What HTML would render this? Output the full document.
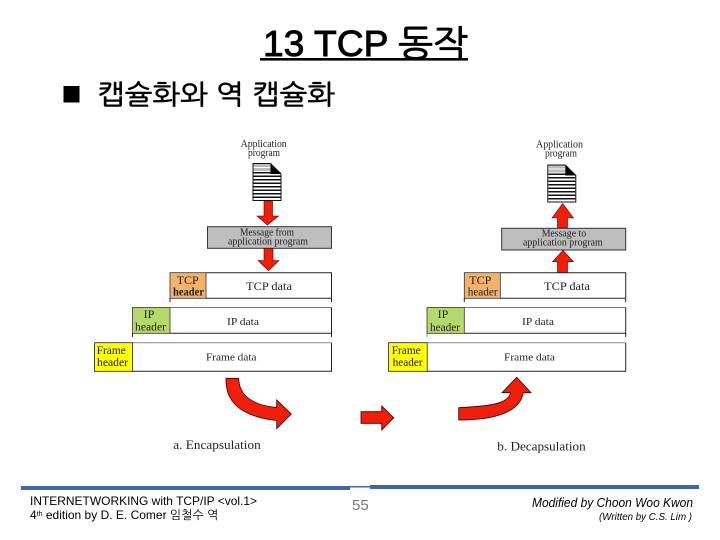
<!DOCTYPE html>
<html><head><meta charset="utf-8"><style>
html,body{margin:0;padding:0;background:#fff}
svg{display:block}
.s{font-family:"Liberation Serif","Noto Serif CJK SC",serif;fill:#222}
.a{font-family:"Liberation Sans","NanumGothic","Noto Sans CJK KR",sans-serif;fill:#000}
.d{filter:blur(.35px)}
</style></head><body>
<svg xmlns="http://www.w3.org/2000/svg" width="720" height="540" viewBox="0 0 720 540">
<defs>
<g id="doc">
<path d="M0.5 0.5H18L28.5 11V37.5H0.5Z" fill="#fff" stroke="#111"/>
<g fill="#bbb"><rect x="1" y="1" width="17" height="3"/><rect x="1" y="5" width="17" height="3"/></g>
<g fill="#111"><rect x="1" y="9" width="27" height="1.5"/><rect x="1" y="12.5" width="27" height="1.5"/><rect x="1" y="16" width="27" height="1.5"/><rect x="1" y="19.5" width="27" height="1.5"/><rect x="1" y="23" width="27" height="1.5"/><rect x="1" y="26.5" width="27" height="1.5"/><rect x="1" y="30" width="27" height="1.5"/><rect x="1" y="33.5" width="27" height="1.5"/></g>
<path d="M18 0.5L28.5 11H18Z" fill="#000"/>
</g>
</defs>

<!-- heading -->
<text class="a" x="263" y="56" font-size="36" stroke="#000" stroke-width=".9" textLength="205" lengthAdjust="spacingAndGlyphs">13 TCP 동작</text>
<rect x="260" y="58" width="208" height="2.6" fill="#000"/>
<rect x="63.5" y="86" width="16" height="16.5" fill="#000"/>
<text class="a" x="97" y="104" font-size="27" stroke="#000" stroke-width=".6" textLength="238" lengthAdjust="spacingAndGlyphs">캡슐화와 역 캡슐화</text>

<g class="d">
<!-- LEFT PANEL -->
<text class="s" x="240.7" y="147" font-size="10" textLength="46" lengthAdjust="spacingAndGlyphs">Application</text>
<text class="s" x="248" y="156" font-size="10" textLength="32" lengthAdjust="spacingAndGlyphs">program</text>
<use href="#doc" x="252.5" y="163"/>
<path d="M264 201H272.5V216H278.5L267.5 225L257 216H264Z" fill="#f01e0a" stroke="#500" stroke-width=".6"/>
<rect x="207.5" y="226.7" width="124" height="21.6" fill="#bebebe" stroke="#333"/>
<text class="s" x="240" y="235.5" font-size="10.5" textLength="54" lengthAdjust="spacingAndGlyphs">Message from</text>
<text class="s" x="228" y="244.5" font-size="10.5" textLength="80" lengthAdjust="spacingAndGlyphs">application program</text>
<path d="M264 248.5H273V260.5H279L268.5 270.7L258 260.5H264Z" fill="#f01e0a" stroke="#500" stroke-width=".6"/>

<g fill="none" stroke="#222">
<path d="M206 272.7H331.5V302M206 298.3H331.5"/>
<path d="M170 298V302"/>
<path d="M170 307.5H331.5" stroke="#777"/>
<path d="M170 333.3H331.5V337M331.5 307.5V333"/>
<path d="M132.5 333V337"/>
<path d="M132.5 342.7H331.5" stroke="#888"/>
<path d="M132.5 371.3H331.5V342.7"/>
</g>
<rect x="170" y="272.7" width="36" height="25.6" fill="#f5b26b" stroke="#333" stroke-width=".8"/>
<rect x="132.5" y="307.5" width="37.5" height="25.8" fill="#b5d96b" stroke="#333" stroke-width=".8"/>
<rect x="94.5" y="342.7" width="38" height="28.6" fill="#ff0" stroke="#222" stroke-width=".8"/>

<text class="s" x="187.7" y="284" font-size="12" text-anchor="middle">TCP</text>
<text class="s" x="173" y="295.7" font-size="11.5" font-weight="bold" textLength="31" lengthAdjust="spacingAndGlyphs">header</text>
<text class="s" x="246" y="290" font-size="11.5" textLength="46" lengthAdjust="spacingAndGlyphs">TCP  data</text>
<text class="s" x="149" y="318" font-size="12" text-anchor="middle">IP</text>
<text class="s" x="135" y="330.7" font-size="11.5" textLength="31" lengthAdjust="spacingAndGlyphs">header</text>
<text class="s" x="227" y="325" font-size="11" textLength="32" lengthAdjust="spacingAndGlyphs">IP data</text>
<text class="s" x="96.7" y="354" font-size="11.5" textLength="29" lengthAdjust="spacingAndGlyphs">Frame</text>
<text class="s" x="97" y="366" font-size="11.5" textLength="31" lengthAdjust="spacingAndGlyphs">header</text>
<text class="s" x="206" y="360.7" font-size="11" textLength="50.5" lengthAdjust="spacingAndGlyphs">Frame data</text>

<!-- RIGHT PANEL -->
<text class="s" x="536" y="147.3" font-size="10" textLength="47" lengthAdjust="spacingAndGlyphs">Application</text>
<text class="s" x="545" y="156.7" font-size="10" textLength="32" lengthAdjust="spacingAndGlyphs">program</text>
<use href="#doc" x="547.3" y="164.5"/>
<path d="M562.7 203.5L573.5 218H567.5V228H557.5V218H552Z" fill="#f01e0a" stroke="#500" stroke-width=".6"/>
<rect x="501.7" y="228.3" width="124" height="21.7" fill="#bebebe" stroke="#333"/>
<text class="s" x="541.7" y="236.7" font-size="10.5" textLength="44.5" lengthAdjust="spacingAndGlyphs">Message to</text>
<text class="s" x="523" y="245.3" font-size="10.5" textLength="79.7" lengthAdjust="spacingAndGlyphs">application program</text>
<path d="M563 250.3L573.5 261.7H567.5V272.7H557.5V261.7H552.5Z" fill="#f01e0a" stroke="#500" stroke-width=".6"/>

<g fill="none" stroke="#222">
<path d="M500.3 272.7H625.7V302M500.3 298.3H625.7"/>
<path d="M464.3 298V302"/>
<path d="M464.3 307.5H625.7" stroke="#777"/>
<path d="M464.3 333.3H625.7V337M625.7 307.5V333"/>
<path d="M427 333V337" stroke="#888"/>
<path d="M427 342.7H625.7" stroke="#888"/>
<path d="M427 371.3H625.7V342.7"/>
</g>
<rect x="464.3" y="272.7" width="36" height="25.6" fill="#f5b26b" stroke="#333" stroke-width=".8"/>
<rect x="427" y="307.5" width="37.3" height="25.8" fill="#b5d96b" stroke="#333" stroke-width=".8"/>
<rect x="388.5" y="342.7" width="38.7" height="28.6" fill="#ff0" stroke="#222" stroke-width=".8"/>

<text class="s" x="480.3" y="284" font-size="12" text-anchor="middle">TCP</text>
<text class="s" x="467.7" y="295.7" font-size="11.5" textLength="30" lengthAdjust="spacingAndGlyphs">header</text>
<text class="s" x="544" y="290" font-size="11.5" textLength="46" lengthAdjust="spacingAndGlyphs">TCP  data</text>
<text class="s" x="443" y="318" font-size="12" text-anchor="middle">IP</text>
<text class="s" x="430" y="331" font-size="11.5" textLength="30" lengthAdjust="spacingAndGlyphs">header</text>
<text class="s" x="522" y="325" font-size="11" textLength="32" lengthAdjust="spacingAndGlyphs">IP data</text>
<text class="s" x="391.7" y="354" font-size="11.5" textLength="29" lengthAdjust="spacingAndGlyphs">Frame</text>
<text class="s" x="392.7" y="366" font-size="11.5" textLength="30" lengthAdjust="spacingAndGlyphs">header</text>
<text class="s" x="504" y="360.7" font-size="11" textLength="51" lengthAdjust="spacingAndGlyphs">Frame data</text>

<!-- large arrows -->
<path d="M226 378.3H238.7C239 395 252 405 276.7 407.5V400L291.3 414L276.7 428.7V420.5C245 417 225 405 226 378.3Z" fill="#f01e0a" stroke="#300" stroke-width=".8"/>
<path d="M361 411.7H381.7V406L393.7 417.7L381.7 430V423.3H361Z" fill="#f01e0a" stroke="#300" stroke-width=".8"/>
<path d="M458.7 407.7C490 406 508 404 510.7 392.7H502L516.7 377.3L531 392.7H523.3C520 412 495 420 458.7 420Z" fill="#f01e0a" stroke="#300" stroke-width=".8"/>

<text class="s" x="173.3" y="449" font-size="13" textLength="87.4" lengthAdjust="spacingAndGlyphs">a. Encapsulation</text>
<text class="s" x="497.3" y="450.7" font-size="13" textLength="88.4" lengthAdjust="spacingAndGlyphs">b. Decapsulation</text>
</g>

<!-- footer -->
<rect x="21" y="486" width="329" height="4" fill="#3b66ae"/>
<rect x="350" y="486" width="20" height="1.5" fill="#3b66ae"/>
<rect x="370" y="485" width="329" height="4" fill="#3b66ae"/>
<text class="a" x="30" y="505" font-size="12" fill="#111" textLength="227" lengthAdjust="spacingAndGlyphs">INTERNETWORKING with TCP/IP &lt;vol.1&gt;</text>
<text class="a" x="30" y="519" font-size="12" fill="#111">4<tspan font-size="7" dy="-3">th</tspan><tspan dy="3"> edition by D. E. Comer 임철수 역</tspan></text>
<text x="352" y="510" font-family="'Liberation Sans',sans-serif" font-size="15" fill="#777">55</text>
<text class="a" x="532" y="507" font-size="13" font-style="italic" textLength="161" lengthAdjust="spacingAndGlyphs">Modified by Choon Woo Kwon</text>
<text class="a" x="599" y="520" font-size="10.5" font-style="italic" textLength="93" lengthAdjust="spacingAndGlyphs">(Written by C.S. Lim )</text>
</svg>
</body></html>
